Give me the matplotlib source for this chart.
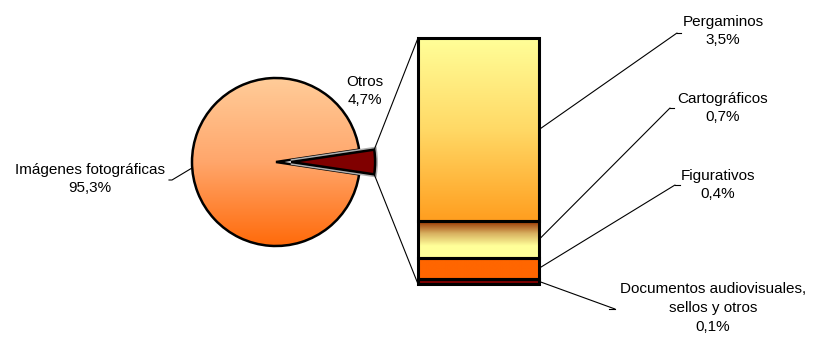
import numpy as np
import matplotlib
matplotlib.use('Agg')
import matplotlib.pyplot as plt
from matplotlib.patches import ConnectionPatch
from matplotlib.colors import LinearSegmentedColormap

plt.rcParams['font.family'] = ['Liberation Sans', 'DejaVu Sans']

# ---- data ----
pie_labels = ['Imágenes fotográficas', 'Otros']
pie_values = [95.3, 4.7]
bar_labels = ['Pergaminos', 'Cartográficos', 'Figurativos',
              'Documentos audiovisuales,\nsellos y otros']
bar_values = [3.5, 0.7, 0.4, 0.1]

W, H = 816, 338
fig = plt.figure(figsize=(W / 100, H / 100), dpi=100)
ax = fig.add_axes([0, 0, 1, 1])

# ---- pie ----
cx, cy, R = 276, 162, 84
start = 360 * pie_values[1] / sum(pie_values) / 2
wedges, _ = ax.pie(pie_values, center=(cx, cy), radius=R, startangle=start,
                   counterclock=True, explode=[0, 0.18 * R],
                   wedgeprops=dict(linewidth=1.8, edgecolor='black'))
ax.set_xlim(0, W)
ax.set_ylim(H, 0)
ax.set_aspect('auto')
ax.axis('off')

def vgrad(axis, colors, extent, clip, z=1):
    cmap = LinearSegmentedColormap.from_list('g', colors)
    g = np.linspace(0, 1, 256).reshape(-1, 1)
    im = axis.imshow(g, cmap=cmap, extent=extent, aspect='auto',
                     origin='upper', interpolation='bilinear', zorder=z)
    im.set_clip_path(clip)
    return im

w0 = wedges[0]
w0.set_facecolor('none')
w0.set_zorder(3)
vgrad(ax, ['#FFCC99', '#FFA66B', '#FF6A0A'],
      (cx - R, cx + R, cy + R, cy - R), w0, z=2)
w1 = wedges[1]
w1.set_facecolor('#800000')
w1.set_zorder(3)
w1.set_path_effects([])
import matplotlib.patheffects as pe_
w1.set_path_effects([pe_.Stroke(linewidth=4.0, foreground='#B0B0B0'),
                     pe_.Normal()])

# ---- stacked bar ----
total = sum(bar_values)
bax = fig.add_axes([418 / W, (H - 284) / H, 121 / W, 246 / H])
bax.set_xlim(0, 1)
bax.set_ylim(0, total)
bax.axis('off')

grads = [['#FFFF99', '#FFD966', '#FF9E1F'],
         ['#993300', '#D8B060', '#FFFF99', '#FFFF99'],
         ['#FF6600', '#FF6600'],
         ['#800000', '#800000']]
bottoms = []
b = 0.0
for v in reversed(bar_values):
    bottoms.append(b)
    b += v
bottoms = bottoms[::-1]
mids = []
for v, bt, gc in zip(bar_values, bottoms, grads):
    rect = bax.bar(0.5, v, bottom=bt, width=1.0, facecolor='none',
                   edgecolor='black', linewidth=2.2, zorder=3,
                   clip_on=False)[0]
    vgrad(bax, gc, (0, 1, bt, bt + v), rect, z=2)
    mids.append(bt + v / 2)

# ---- connecting lines pie -> bar ----
t1, t2 = np.deg2rad(w1.theta1), np.deg2rad(w1.theta2)
wc = w1.center
p1 = (wc[0] + w1.r * np.cos(t1), wc[1] + w1.r * np.sin(t1))
p2 = (wc[0] + w1.r * np.cos(t2), wc[1] + w1.r * np.sin(t2))
top_pt, bot_pt = (p1, p2) if p1[1] < p2[1] else (p2, p1)
for pp, by in [(top_pt, total), (bot_pt, 0)]:
    con = ConnectionPatch(xyA=pp, coordsA=ax.transData, xyB=(0, by),
                          coordsB=bax.transData, color='black', linewidth=0.8,
                          zorder=1)
    fig.add_artist(con)

# ---- labels ----
fs = 11
ls = 1.42
bar_text_pos = [(723, 31), (723, 108), (718, 185), (713, 308)]
bar_elbows = [(677, 33), (670, 108), (675, 185), (615, 309)]
stub = [4, 4, 5, -6]
for lab, v, m, tp, el, s in zip(bar_labels, bar_values, mids,
                                bar_text_pos, bar_elbows, stub):
    txt = f"{lab}\n{v:.1f}%".replace('.', ',')
    ax.text(tp[0], tp[1], txt, ha='center', va='center', fontsize=fs,
            linespacing=ls)
    con = ConnectionPatch(xyA=(1, m), coordsA=bax.transData, xyB=el,
                          coordsB=ax.transData, color='black', linewidth=0.8)
    fig.add_artist(con)
    ax.plot([el[0], el[0] + s], [el[1], el[1]], color='black', lw=0.8)

# pie labels
ang0 = np.deg2rad((w0.theta1 + w0.theta2) / 2)
pe = (cx + R * np.cos(ang0), cy + R * np.sin(ang0))
ax.plot([pe[0], 172, 169], [pe[1] + 6, 180, 180], color='black', lw=0.8)
ax.text(90, 179, f"{pie_labels[0]}\n{pie_values[0]:.1f}%".replace('.', ','),
        ha='center', va='center', fontsize=fs, linespacing=ls)
ax.text(365, 91, f"{pie_labels[1]}\n{pie_values[1]:.1f}%".replace('.', ','),
        ha='center', va='center', fontsize=fs, linespacing=ls)

fig.savefig('out.png', dpi=100)
